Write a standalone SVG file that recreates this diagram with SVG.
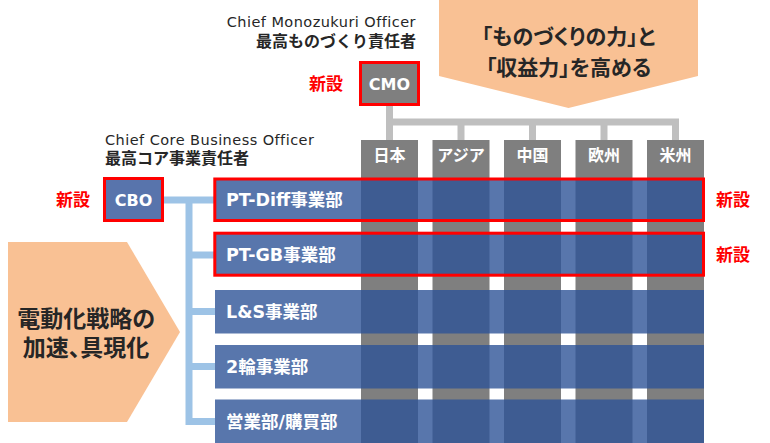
<svg xmlns="http://www.w3.org/2000/svg" width="770" height="443" viewBox="0 0 770 443">
<style>
.jp{font-family:"DejaVu Sans","Noto Sans CJK JP",sans-serif;font-weight:bold}
.lat{font-family:"DejaVu Sans","Noto Sans CJK JP",sans-serif;font-weight:normal;font-size:14.5px;letter-spacing:0.45px}
.wt{fill:#fff}
.lbl{font-size:17.5px}
.hdr{font-size:16px}
.new{fill:#FF0000;font-size:17px}
.title{fill:#262626}
.col{fill:#7F7F7F}
.row{fill:#2E5497;fill-opacity:0.8}
.red{fill:none;stroke:#FF0000;stroke-width:3}
.chev{fill:#F9C194}
.cn{fill:none;stroke:#BFBFBF;stroke-width:7}
.cb{fill:none;stroke:#9DC3E6;stroke-width:7}
</style>

<g id="chevron-top">
<polygon class="chev" points="439,0 698,0 698,76 568.5,108 439,76"/>
<text class="jp title" x="568.5" y="44" font-size="21" text-anchor="middle" style="font-feature-settings:'palt'">「ものづくりの力」と</text>
<text class="jp title" x="568.5" y="75" font-size="21" text-anchor="middle" style="font-feature-settings:'palt'">「収益力」を高める</text>
</g>

<g id="chevron-left">
<polygon class="chev" points="8,242 127,242 180,332 127,422 8,422"/>
<text class="jp title" x="86" y="327" font-size="23" text-anchor="middle" style="font-feature-settings:'palt'">電動化戦略の</text>
<text class="jp title" x="86" y="356" font-size="23" text-anchor="middle" style="font-feature-settings:'palt'">加速、具現化</text>
</g>

<g id="connectors">
<path class="cn" d="M389.5,106 V140 M389.5,122 H675.5 V140 M461,122 V140 M532.5,122 V140 M604,122 V140"/>
<path class="cb" d="M164,200 H215 M189,200 V425 M189,255 H215 M189,311.5 H215 M189,366.5 H215 M189,421.5 H215"/>
</g>

<g id="columns">
<rect class="col" x="361" y="140" width="57" height="303"/>
<rect class="col" x="432.5" y="140" width="57" height="303"/>
<rect class="col" x="504" y="140" width="57" height="303"/>
<rect class="col" x="575.5" y="140" width="57" height="303"/>
<rect class="col" x="647" y="140" width="57" height="303"/>
<text class="jp wt hdr" x="389.5" y="161" text-anchor="middle">日本</text>
<text class="jp wt hdr" x="461" y="161" text-anchor="middle">アジア</text>
<text class="jp wt hdr" x="532.5" y="161" text-anchor="middle">中国</text>
<text class="jp wt hdr" x="604" y="161" text-anchor="middle">欧州</text>
<text class="jp wt hdr" x="675.5" y="161" text-anchor="middle">米州</text>
</g>

<g id="cmo">
<text class="lat title" x="416" y="26.5" text-anchor="end">Chief Monozukuri Officer</text>
<text class="jp title" x="416" y="47" font-size="16" text-anchor="end">最高ものづくり責任者</text>
<rect x="361" y="62.5" width="57.5" height="42" fill="#7F7F7F"/>
<rect class="red" x="360.5" y="62.5" width="58" height="42"/>
<text class="jp wt hdr" x="389.5" y="89.5" text-anchor="middle">CMO</text>
<text class="jp new" x="326" y="90" text-anchor="middle">新設</text>
</g>

<g id="cbo">
<text class="lat title" x="105" y="145">Chief Core Business Officer</text>
<text class="jp title" x="105" y="164" font-size="16">最高コア事業責任者</text>
<rect x="104.5" y="178.5" width="58" height="42" fill="#5874AC"/>
<rect class="red" x="104.5" y="178.5" width="58" height="42"/>
<text class="jp wt hdr" x="133.5" y="206" text-anchor="middle">CBO</text>
<text class="jp new" x="73" y="206" text-anchor="middle">新設</text>
</g>

<g id="row-ptdiff">
<rect class="row" x="215" y="178.5" width="489" height="43"/>
<rect class="red" x="214.8" y="179" width="488.7" height="41.5"/>
<text class="jp wt lbl" x="226" y="206">PT-Diff事業部</text>
<text class="jp new" x="733" y="206" text-anchor="middle">新設</text>
</g>

<g id="row-ptgb">
<rect class="row" x="215" y="233" width="489" height="43"/>
<rect class="red" x="214.8" y="233.2" width="488.7" height="42"/>
<text class="jp wt lbl" x="226" y="261">PT-GB事業部</text>
<text class="jp new" x="733" y="261" text-anchor="middle">新設</text>
</g>

<g id="row-ls">
<rect class="row" x="215" y="290" width="489" height="43.5"/>
<text class="jp wt lbl" x="226" y="318">L&amp;S事業部</text>
</g>

<g id="row-2w">
<rect class="row" x="215" y="345" width="489" height="43.5"/>
<text class="jp wt lbl" x="226" y="373">2輪事業部</text>
</g>

<g id="row-sales">
<rect class="row" x="215" y="399.5" width="489" height="43.5"/>
<text class="jp wt lbl" x="226" y="427.5">営業部/購買部</text>
</g>
</svg>
